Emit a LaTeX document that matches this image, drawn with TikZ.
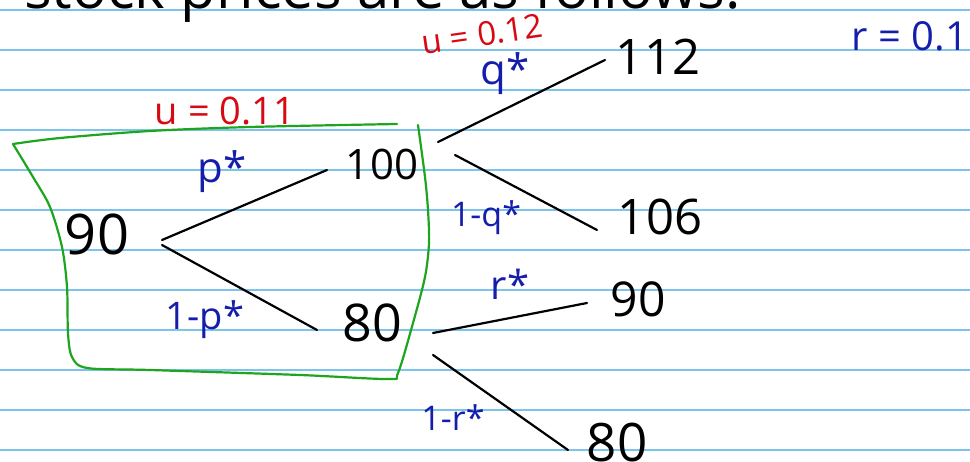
\documentclass[tikz,border=0pt]{standalone}
\usepackage{fontspec}
\setmainfont{Open Sans}
\usetikzlibrary{calc}
\definecolor{paper}{RGB}{125,196,236}
\definecolor{inkblue}{RGB}{20,30,170}
\definecolor{inkred}{RGB}{215,10,20}
\definecolor{inkgreen}{RGB}{30,165,30}
\tikzset{
  num/.style={anchor=base, inner sep=0pt, text=black},
  lbl/.style={inner sep=0pt, text=inkblue},
  uval/.style={inner sep=0pt, text=inkred},
  branch/.style={draw=black, line width=2.2pt, line cap=round},
  ruling/.style={draw=paper, line width=1.4pt},
  grp/.style={draw=inkgreen, line width=2.2pt, line cap=round, line join=round},
}
\begin{document}
\begin{tikzpicture}[x=1pt,y=-1pt]
\useasboundingbox (0,0) rectangle (970,462);
\fill[white] (0,0) rectangle (970,462);
\begin{scope}
\clip (0,0) rectangle (970,462);
% ruled paper
\foreach \yy in {10,50,...,450} {\draw[ruling] (0,\yy) -- (970,\yy);}
% clipped heading
\node[anchor=base west, inner sep=0pt, text depth=0pt, font=\fontsize{58}{62}\selectfont] (head) at (24,9) {stock prices are as follows.};
\end{scope}
% numbers
\node[num, font=\fontsize{56}{60}\selectfont] (n90) at (97,255) {90};
\node[num, font=\fontsize{42}{46}\selectfont] (n100) at (382,180) {100};
\node[num, font=\fontsize{52}{56}\selectfont] (n80) at (372,342) {80};
\node[num, font=\fontsize{49}{53}\selectfont] (n112) at (658,75) {112};
\node[num, font=\fontsize{49}{53}\selectfont] (n106) at (660,235) {106};
\node[num, font=\fontsize{48}{52}\selectfont] (n90b) at (638,317) {90};
\node[num, font=\fontsize{53}{57}\selectfont] (n80b) at (617,461) {80};
% branches
\draw[branch] ([shift={(65,-15)}]n90.base) -- ([shift={(-55,-10)}]n100.base);
\draw[branch] ([shift={(65,-10)}]n90.base) -- ([shift={(-55,-12)}]n80.base);
\draw[branch] ([shift={(56,-38)}]n100.base) -- ([shift={(-53,-15)}]n112.base);
\draw[branch] ([shift={(73,-25)}]n100.base) -- ([shift={(-63,-5)}]n106.base);
\draw[branch] ([shift={(61,-9)}]n80.base) -- ([shift={(-51,-14)}]n90b.base);
\draw[branch] ([shift={(61,13)}]n80.base) -- ([shift={(-49,-11)}]n80b.base);
% probabilities
\node[lbl, font=\fontsize{42}{46}\selectfont] (lp) at (222,172) {p*};
\node[lbl, font=\fontsize{38}{42}\selectfont] (lq1) at (205,320) {1-p*};
\node[lbl, font=\fontsize{42}{46}\selectfont] (lq) at (505,74) {q*};
\node[lbl, font=\fontsize{34}{38}\selectfont] (lnq) at (486,218) {1-q*};
\node[lbl, font=\fontsize{40}{44}\selectfont] (lr) at (510,284) {r*};
\node[lbl, font=\fontsize{34}{38}\selectfont] (lnr) at (453,418) {1-r*};
\node[lbl, font=\fontsize{40}{44}\selectfont] (rate) at (910,36) {r = 0.1};
% up factors
\node[uval, font=\fontsize{33}{37}\selectfont, rotate=8] (u2) at (482,34) {u = 0.12};
\node[uval, font=\fontsize{38}{42}\selectfont] (u1) at (225,111) {u = 0.11};
% green grouping
\draw[grp] plot[smooth, tension=0.5] coordinates {(397,124) (250,127) (150,131) (60,138) (13,144)};
\draw[grp] plot[smooth, tension=0.5] coordinates {(13,144) (33,177) (50,207) (62,247) (67,287) (68,333) (72,357) (87,368) (150,370) (300,375) (388,379) (398,373) (413,323) (425,277) (429,243) (428,210) (425,177) (418,125)};
\end{tikzpicture}
\end{document}
